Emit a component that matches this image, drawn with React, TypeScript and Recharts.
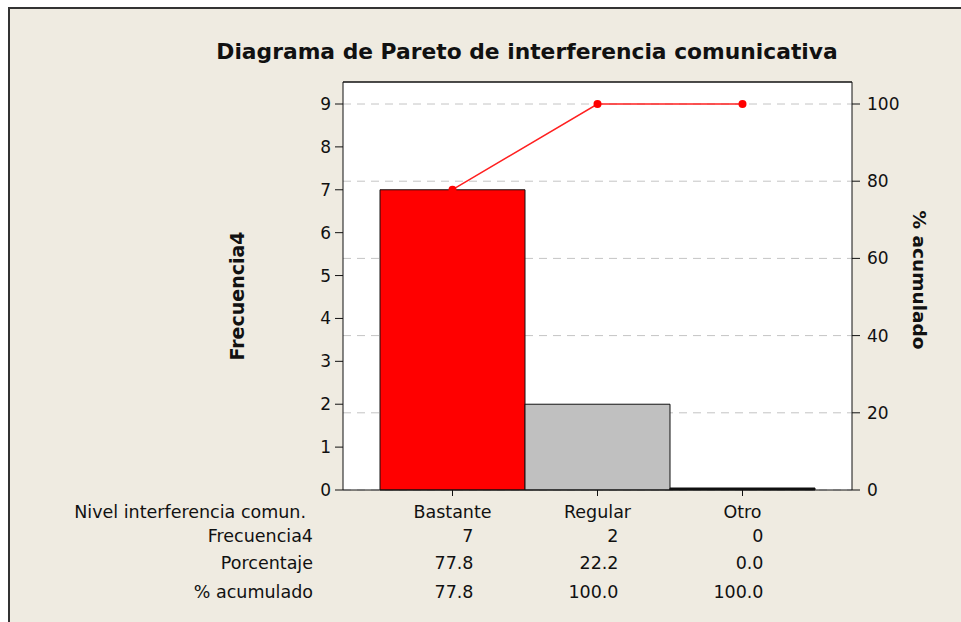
import { Bar, CartesianGrid, Cell, ComposedChart, Line, ReferenceLine, XAxis, YAxis } from 'recharts'

const categories = ['Bastante', 'Regular', 'Otro']
const frecuencia = [7, 2, 0]
const porcentaje = [77.8, 22.2, 0.0]
const acumulado = [77.8, 100.0, 100.0]
const barColors = ['#ff0000', '#c0c0c0', '#111111']
const leftTicks = [0, 1, 2, 3, 4, 5, 6, 7, 8, 9]
const rightTicks = [20, 40, 60, 80, 100]
const rightLabels = [0, 20, 40, 60, 80, 100]
const rowLabels = ['Frecuencia4', 'Porcentaje', '% acumulado']

// total = 9 → the right axis 100% lines up with 9 on the left
const LEFT_MAX = 9.513
const RIGHT_MAX = (LEFT_MAX / 9) * 100

const data = categories.map((name, i) => ({
  name,
  freq: frecuencia[i],
  pct: porcentaje[i],
  cum: acumulado[i],
}))

const FONT = '"DejaVu Sans", Tahoma, sans-serif'
const BG = '#efebe1'
const ROW_Y = [542, 569, 598]

function TableTick(props: any) {
  const { x, payload } = props
  const d = data[payload.index]
  const right = x + 21
  return (
    <g fontFamily={FONT} fontSize={17.5}>
      <text x={x} y={518} textAnchor="middle" fill="#111">
        {d.name}
      </text>
      <text x={right} y={ROW_Y[0]} textAnchor="end" fill="#111">
        {d.freq}
      </text>
      <text x={right} y={ROW_Y[1]} textAnchor="end" fill="#111">
        {d.pct.toFixed(1)}
      </text>
      <text x={right} y={ROW_Y[2]} textAnchor="end" fill="#111">
        {d.cum.toFixed(1)}
      </text>
    </g>
  )
}

export default function App() {
  return (
    <div style={{ position: 'fixed', left: 0, top: 0, width: 961, height: 622, background: '#fff', overflow: 'hidden' }}>
      <div
        style={{
          position: 'absolute',
          left: 8,
          top: 7,
          width: 961,
          height: 622,
          background: BG,
          borderLeft: '2px solid #333',
          borderTop: '2px solid #333',
        }}
      />
      <svg width={961} height={622} style={{ position: 'absolute', left: 0, top: 0 }}>
        <text x={527} y={59} textAnchor="middle" fontFamily={FONT} fontWeight="bold" fontSize={21.8} fill="#111">
          Diagrama de Pareto de interferencia comunicativa
        </text>
        <text
          transform="translate(244,296) rotate(-90)"
          textAnchor="middle"
          fontFamily={FONT}
          fontWeight="bold"
          fontSize={19}
          fill="#111"
        >
          Frecuencia4
        </text>
        <text
          transform="translate(913,280) rotate(90)"
          textAnchor="middle"
          fontFamily={FONT}
          fontWeight="bold"
          fontSize={18.5}
          fill="#111"
        >
          % acumulado
        </text>
        <g fontFamily={FONT} fontSize={17.5} fill="#111">
          <text x={306} y={518} textAnchor="end">
            Nivel interferencia comun.
          </text>
          {rowLabels.map((r, i) => (
            <text key={r} x={313} y={ROW_Y[i]} textAnchor="end">
              {r}
            </text>
          ))}
        </g>
      </svg>
      <div style={{ position: 'absolute', left: 0, top: 0 }}>
        <ComposedChart
          width={961}
          height={622}
          data={data}
          barCategoryGap={0}
          margin={{ top: 82, right: 49, bottom: 102, left: 283 }}
        >
          <CartesianGrid
            yAxisId="right"
            vertical={false}
            horizontal
            stroke="#c4c4c4"
            strokeDasharray="8 6"
            fill="#ffffff"
            fillOpacity={1}
            syncWithTicks
          />
          <XAxis
            dataKey="name"
            height={30}
            padding={{ left: 37, right: 37 }}
            stroke="#111"
            tickSize={6}
            tick={<TableTick />}
            interval={0}
          />
          <YAxis
            yAxisId="left"
            domain={[0, LEFT_MAX]}
            ticks={leftTicks}
            width={60}
            stroke="#111"
            tickSize={8}
            tickMargin={4}
            interval={0}
            tick={{ fontFamily: FONT, fontSize: 17, fill: '#111' }}
          />
          <YAxis
            yAxisId="right"
            orientation="right"
            domain={[0, RIGHT_MAX]}
            ticks={rightLabels}
            width={60}
            stroke="#111"
            tickSize={8}
            tickMargin={7}
            interval={0}
            tick={{ fontFamily: FONT, fontSize: 17, fill: '#111' }}
          />
          <ReferenceLine yAxisId="left" y={LEFT_MAX} stroke="#111" strokeWidth={1.5} />
          <Bar yAxisId="left" dataKey="freq" stroke="#111" strokeWidth={1} minPointSize={2} isAnimationActive={false}>
            {data.map((d, i) => (
              <Cell key={d.name} fill={barColors[i]} />
            ))}
          </Bar>
          <Line
            yAxisId="right"
            dataKey="cum"
            stroke="#ff2020"
            strokeWidth={1.5}
            dot={{ r: 4, fill: '#ff0000', stroke: '#ff0000', strokeWidth: 0 }}
            isAnimationActive={false}
          />
        </ComposedChart>
      </div>
    </div>
  )
}
